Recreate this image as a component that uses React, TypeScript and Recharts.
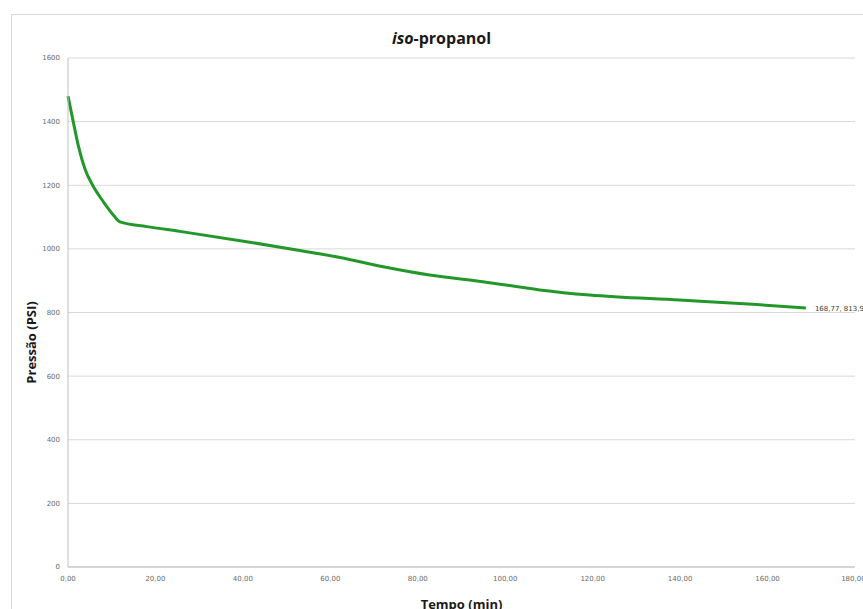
import React from 'react';
import { LineChart, Line, XAxis, YAxis, CartesianGrid } from 'recharts';

const tempo = [0, 1.2, 2.4, 3.9, 5.8, 8.1, 10.4, 11.9, 18, 25.6, 41.6, 53, 62.2, 72.1, 82.7, 94.9, 107.9, 119.3, 139.9, 156.6, 168.77];
const pressao = [1480, 1400, 1322, 1250, 1196, 1148, 1106, 1085, 1070, 1055, 1021, 995, 973, 944, 918, 897, 871, 855, 839, 826, 813.9];

const xTicks = [0, 20, 40, 60, 80, 100, 120, 140, 160, 180];
const yTicks = [0, 200, 400, 600, 800, 1000, 1200, 1400, 1600];

const data = tempo.map((t, i) => ({ tempo: t, pressao: pressao[i] }));

const fmt = (v: number) => v.toFixed(2).replace('.', ',');
const tickStyle = { fontSize: 7, fill: '#6a6a6a', fontFamily: 'DejaVu Sans' };

function EndLabel(props: any) {
  const { x, y, index } = props;
  if (index !== data.length - 1) return null;
  const p = data[index];
  return (
    <text x={x + 9} y={y + 3} fontSize={7} fill="#404040" fontFamily="DejaVu Sans">
      {`${fmt(p.tempo)}, ${p.pressao.toFixed(1).replace('.', ',')}`}
    </text>
  );
}

export default function App() {
  return (
    <div style={{ position: 'absolute', left: 0, top: 0, width: 863, height: 609, overflow: 'hidden', background: '#fff' }}>
      <div style={{ position: 'absolute', left: 11, top: 14, width: 900, height: 700, border: '1px solid #d9d9d9' }} />
      <div
        style={{
          position: 'absolute', left: 0, top: 27, width: 883, textAlign: 'center',
          fontFamily: 'Open Sans', fontWeight: 700, fontSize: 16, color: '#1a1a1a',
        }}
      >
        <i>iso</i>-propanol
      </div>
      <LineChart width={863} height={609} data={data} margin={{ top: 58, right: 8, bottom: 0, left: 10 }} style={{ position: 'absolute', left: 0, top: 0 }}>
        <CartesianGrid vertical={false} stroke="#d9d9d9" />
        <XAxis
          dataKey="tempo"
          type="number"
          domain={[0, 180]}
          ticks={xTicks}
          tickFormatter={fmt}
          tick={tickStyle}
          tickLine={false}
          tickMargin={3}
          axisLine={{ stroke: '#bfbfbf' }}
          height={42}
          label={{ value: 'Tempo (min)', position: 'insideBottom', offset: 0, style: { fontFamily: 'Open Sans', fontWeight: 700, fontSize: 13, fill: '#1a1a1a' } }}
        />
        <YAxis
          type="number"
          domain={[0, 1600]}
          ticks={yTicks}
          tick={tickStyle}
          tickLine={false}
          tickMargin={2}
          axisLine={{ stroke: '#bfbfbf' }}
          width={58}
          label={{ value: 'Pressão (PSI)', angle: -90, position: 'insideLeft', offset: 21, dy: 30, style: { textAnchor: 'middle', fontFamily: 'Open Sans', fontWeight: 700, fontSize: 13, fill: '#1a1a1a' } }}
        />
        <Line
          type="monotone"
          dataKey="pressao"
          stroke="#23972a"
          strokeWidth={3}
          dot={false}
          label={<EndLabel />}
          isAnimationActive={false}
        />
      </LineChart>
    </div>
  );
}
